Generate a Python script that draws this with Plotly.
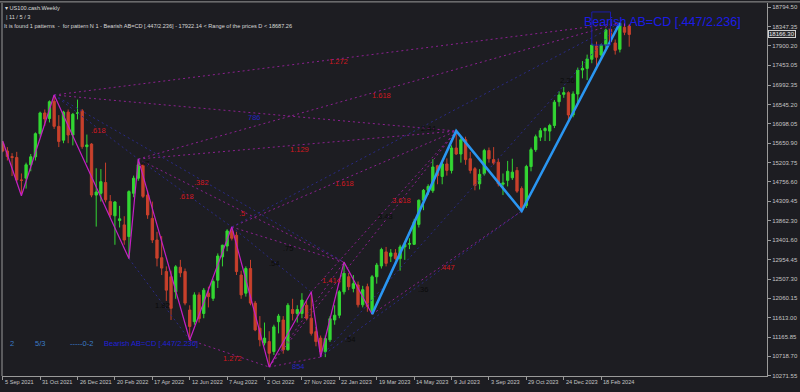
import plotly.graph_objects as go
import pandas as pd

# ---------------- data ----------------
WEEK0 = "2021-09-05"
OPEN = [15640, 15470, 15340, 15320, 14800, 14840, 15150, 15335, 15870, 16350,
        16220, 16620, 16040, 15720, 16370, 15840, 16340, 16400, 15570, 15630,
        14450, 14490, 14740, 14300, 13970, 13860, 13760, 13490, 14490, 14840,
        15150, 14450, 13910, 13410, 13000, 12680, 12560, 12210, 12780, 12680,
        11790, 11520, 12140, 11710, 12180, 12060, 12480, 13020, 13270, 13620,
        13520, 12600, 12180, 12750, 11950, 11370, 11030, 11060, 10830, 11520,
        11560, 10870, 11800, 11710, 11710, 11900, 11600, 11290, 11140, 10830,
        11100, 11560, 11670, 12210, 12560, 12290, 12370, 11910, 12330, 11760,
        12560, 12810, 13135, 13035, 13110, 12980, 13250, 13310, 13310, 13770,
        14330, 14560, 14550, 15130, 14880, 15170, 15020, 15540, 15400, 15730,
        15290, 15060, 14710, 14940, 15480, 15270, 15210, 14700, 14790, 14850,
        15020, 14600, 14210, 15110, 15500, 15790, 15940, 15930, 16060, 16610,
        16780, 16819, 16303, 16788, 17344, 17380, 17592, 17900, 17690, 17922,
        18285, 17968, 17823, 18332, 18362]
HIGH = [15701, 15560, 15420, 15450, 14950, 15200, 15400, 15900, 16380, 16430,
        16640, 16765, 16300, 16400, 16430, 16350, 16660, 16440, 15850, 15650,
        15070, 15050, 15200, 14450, 14310, 14200, 13960, 14560, 14900, 15283,
        15160, 14550, 14300, 13600, 13500, 12800, 12700, 12830, 12950, 12750,
        11900, 12200, 12200, 12300, 12330, 12500, 13100, 13300, 13660, 13711,
        13600, 12700, 12800, 12950, 12000, 11650, 11500, 11300, 11450, 11700,
        11650, 11950, 12050, 11900, 12180, 12000, 12207, 11400, 11200, 11200,
        11650, 11900, 12250, 12898, 12650, 12600, 12450, 12350, 12400, 12600,
        12880, 13230, 13250, 13200, 13200, 13300, 13350, 13450, 13900, 14350,
        14590, 14700, 15280, 15150, 15200, 15300, 15600, 15932, 15800, 15800,
        15450, 15100, 15050, 15520, 15550, 15560, 15300, 14950, 15240, 15290,
        15100, 14650, 15150, 15550, 15850, 16000, 16020, 16100, 16650, 16850,
        16950, 16850, 16850, 17400, 17550, 17700, 17960, 18000, 17950, 18300,
        18420, 18050, 18431, 18420, 18400]
LOW = [15440, 15250, 14890, 14740, 14434, 14600, 15000, 15250, 15800, 16050,
       16130, 15980, 15560, 15650, 15650, 15600, 16200, 15520, 15200, 14400,
       13720, 14300, 14280, 13940, 13300, 13700, 13300, 12980, 14400, 14780,
       14380, 13900, 13340, 12800, 12600, 12000, 11560, 12050, 12550, 11900,
       11096, 11450, 11500, 11600, 11850, 12000, 12300, 12800, 13150, 13400,
       12600, 12050, 12100, 11900, 11300, 10950, 10970, 10471, 10750, 11250,
       10780, 10850, 11550, 11500, 11600, 11550, 11200, 10950, 10703, 10700,
       11050, 11450, 11600, 12150, 12250, 12200, 11850, 11850, 11750, 11691,
       12400, 12750, 12800, 12900, 12950, 12700, 12950, 13200, 13300, 13700,
       14100, 14450, 14500, 14700, 14700, 14900, 14950, 15380, 15200, 15150,
       14950, 14560, 14580, 14900, 15200, 15150, 14650, 14450, 14650, 14800,
       14500, 14081, 14150, 15000, 15450, 15700, 15700, 15700, 16000, 16500,
       16700, 16170, 16250, 16600, 17150, 17110, 17500, 17400, 17600, 17850,
       17950, 17700, 17750, 18150, 17883]
CLOSE = [15470, 15340, 15320, 14800, 14790, 15150, 15335, 15870, 16350, 16210,
         16610, 16040, 15690, 16370, 15840, 16320, 16350, 15570, 15610, 14450,
         14520, 14760, 14340, 13990, 14290, 13900, 13410, 14530, 14840, 15150,
         14420, 13990, 13410, 12990, 12760, 12250, 11830, 12790, 12650, 11950,
         11410, 12140, 11590, 12250, 12100, 12450, 13040, 13290, 13620, 13450,
         12680, 12140, 12750, 11950, 11330, 11100, 11140, 10790, 11400, 11650,
         10870, 11900, 11710, 11800, 12020, 11600, 11250, 11060, 10830, 11130,
         11590, 11670, 12210, 12640, 12330, 12400, 11910, 12260, 11870, 12560,
         12830, 13190, 12870, 13110, 12980, 13250, 13310, 13330, 13830, 14330,
         14560, 14650, 15100, 14900, 15170, 15020, 15540, 15400, 15730, 15270,
         15020, 14670, 14930, 15480, 15290, 15190, 14710, 14730, 15000, 14980,
         14540, 14140, 15110, 15500, 15800, 15940, 15990, 16060, 16600, 16765,
         16820, 16303, 16790, 17344, 17382, 17600, 17922, 17638, 17922, 18270,
         17999, 17798, 18424, 18216, 18166]

# swing points of the zig-zag (week index, high/low)
PIVOT_WEEKS = [0, 4, 11, 27, 29, 40, 49, 57, 66, 68, 73, 79, 97, 111, 132]
PIVOT_SIDE = ["H", "L", "H", "L", "H", "L", "H", "L", "H", "L", "H", "L", "H", "L", "H"]
ZIGZAG_PIVOTS = list(range(0, 12))        # magenta
ABCD_PIVOTS = [11, 12, 13, 14]            # blue A-B-C-D

# dotted ratio lines (pivot pairs)
PURPLE_LINES = [(2, 14), (2, 12), (4, 14), (4, 12), (6, 12), (8, 12), (7, 12),
                (4, 10), (6, 10), (5, 7), (7, 9), (11, 13), (7, 10)]
NAVY_LINES = [(2, 4), (4, 6), (6, 8), (2, 10), (3, 5), (6, 14), (9, 13), (9, 14)]

# ratio labels: text, week, price, colour key
LABEL_TEXT = ["1.272", "1.618", "1.129", "1.618", "3.618", ".618", ".382", ".618", ".5",
              "1.414", ".447", "1.272", "2.36", "2.44", ".47", ".75", ".54", "3.43",
              ".36", ".54", "1.82", "786", "854"]
LABEL_WEEK = [71.9, 81.1, 63.4, 73.0, 85.3, 20.4, 42.5, 39.3, 51.2,
              70.4, 95.2, 49.2, 120.9, 91.1, 30.2, 61.1, 58.1, 81.9,
              90.0, 74.3, 34.2, 53.8, 63.2]
LABEL_PRICE = [17529, 16765, 15493, 14729, 14320, 15939, 14736, 14412, 14012,
               12469, 12779, 10657, 17112, 15995, 15169, 13218, 12871, 13965,
               12276, 11097, 11906, 16256, 10479]
LABEL_KIND = ["r", "r", "r", "r", "r", "r", "r", "r", "r",
              "r", "r", "r", "k", "k", "k", "k", "k", "k",
              "k", "k", "k", "n", "n"]

D_RANGE = [17922.14, 18687.26]
D_BOX_WEEKS = [126, 130]
PATTERN_NAME = "Bearish AB=CD [.447/2.236]"
CURRENT_PRICE = 18166.30

XTICK_WEEKS = [0, 8, 16, 24, 32, 40, 48, 56, 64, 72, 80, 88, 96, 104, 112, 120, 128]
XTICK_LABELS = ["5 Sep 2021", "31 Oct 2021", "26 Dec 2021", "20 Feb 2022", "17 Apr 2022",
                "12 Jun 2022", "7 Aug 2022", "2 Oct 2022", "27 Nov 2022", "22 Jan 2023",
                "19 Mar 2023", "14 May 2023", "9 Jul 2023", "3 Sep 2023", "29 Oct 2023",
                "24 Dec 2023", "18 Feb 2024"]
YTICKS = [18794.50, 18347.35, 17900.20, 17453.05, 16992.35, 16545.20, 16098.05,
          15650.90, 15203.75, 14756.60, 14309.45, 13862.30, 13401.60, 12954.45,
          12507.30, 12060.15, 11613.00, 11165.85, 10718.70, 10271.55]
Y_RANGE = [10263.5, 18894.0]
X_RANGE_WEEKS = [-0.15, 163.47]

# ---------------- styling ----------------
BG = "#1d1d22"
GREEN = "#33d633"
RED = "#c8402c"
MAGENTA = "#c420c4"
ABCD_BLUE = "#2a96f2"
PURPLE_DOT = "#8c2090"
NAVY_DOT = "#2a2a86"
TXT_COLORS = {"r": "#d01820", "k": "#0b0b0b", "n": "#2424c0"}
AXIS_TXT = "#c4c4c4"
AXIS_LINE = "#9a9a9a"
FONT = "Liberation Sans"

t0 = pd.Timestamp(WEEK0)


def wk(w):
    return t0 + pd.Timedelta(days=7 * w)


dates = [wk(i) for i in range(len(OPEN))]


def pivot(k):
    w = PIVOT_WEEKS[k]
    return wk(w), (HIGH[w] if PIVOT_SIDE[k] == "H" else LOW[w])


fig = go.Figure()

fig.add_trace(go.Candlestick(
    x=dates, open=OPEN, high=HIGH, low=LOW, close=CLOSE,
    increasing=dict(line=dict(color=GREEN, width=1), fillcolor=GREEN),
    decreasing=dict(line=dict(color=RED, width=1), fillcolor=RED),
    whiskerwidth=0, showlegend=False, hoverinfo="skip"))


def seg_trace(pairs, color, dash, width=1):
    xs, ys = [], []
    for a, b in pairs:
        xa, ya = pivot(a)
        xb, yb = pivot(b)
        xs += [xa, xb, None]
        ys += [ya, yb, None]
    return go.Scatter(x=xs, y=ys, mode="lines", line=dict(color=color, width=width, dash=dash),
                      showlegend=False, hoverinfo="skip")


fig.add_trace(seg_trace(PURPLE_LINES, PURPLE_DOT, "2px,3px"))
fig.add_trace(seg_trace(NAVY_LINES, NAVY_DOT, "2px,3px"))

zx = [pivot(k)[0] for k in ZIGZAG_PIVOTS]
zy = [pivot(k)[1] for k in ZIGZAG_PIVOTS]
fig.add_trace(go.Scatter(x=zx, y=zy, mode="lines", line=dict(color=MAGENTA, width=1.2),
                         showlegend=False, hoverinfo="skip"))
ax_ = [pivot(k)[0] for k in ABCD_PIVOTS]
ay_ = [pivot(k)[1] for k in ABCD_PIVOTS]
fig.add_trace(go.Scatter(x=ax_, y=ay_, mode="lines", line=dict(color=ABCD_BLUE, width=2.6),
                         showlegend=False, hoverinfo="skip"))

annotations = []
for t, w, p, k in zip(LABEL_TEXT, LABEL_WEEK, LABEL_PRICE, LABEL_KIND):
    annotations.append(dict(x=wk(w), y=p, xref="x", yref="y", text=t, showarrow=False,
                            font=dict(family=FONT, size=7.5, color=TXT_COLORS[k])))

# big pattern label
annotations.append(dict(x=wk(124.0), y=18454, xref="x", yref="y", text=PATTERN_NAME,
                        showarrow=False, xanchor="left", yanchor="middle",
                        font=dict(family=FONT, size=12.5, color="#1c1ce6")))

# x tick labels (left aligned at tick)
for w, lab in zip(XTICK_WEEKS, XTICK_LABELS):
    annotations.append(dict(x=wk(w), y=0, xref="x", yref="paper", text=lab, showarrow=False,
                            xanchor="left", yanchor="top", xshift=0, yshift=-1,
                            font=dict(family=FONT, size=5.6, color=AXIS_TXT)))

# top-left info text
PW, PH, PL, PT = 769.0, 373.0, 2.0, 3.0


def px(xp):
    return (xp - PL) / PW


def py(yp):
    return 1 - (yp - PT) / PH


info = [("\u25be US100.cash.Weekly", 3, 8),
        ("| 11 / 5 / 3", 4, 17),
        ("It is found 1 patterns  -  for pattern N 1 - " + PATTERN_NAME + " - "
         + f"{D_RANGE[0]:.2f} < Range of the prices D < {D_RANGE[1]:.2f}", 2, 26)]
for t, xx, yy in info:
    annotations.append(dict(x=px(xx), y=py(yy), xref="paper", yref="paper", text=t,
                            showarrow=False, xanchor="left", yanchor="middle",
                            font=dict(family=FONT, size=5.6, color="#d8d8d8")))

# bottom-left legend texts
legend_items = [("2", 8, "#3a7cc8", 7.5), ("5/3", 33, "#3a7cc8", 7.5),
                ("-----0-2", 68, "#3a7cc8", 7.5), (PATTERN_NAME, 103, "#2020d8", 7.5)]
for t, xx, c, s in legend_items:
    annotations.append(dict(x=px(xx), y=py(343), xref="paper", yref="paper", text=t,
                            showarrow=False, xanchor="left", yanchor="middle",
                            font=dict(family=FONT, size=s, color=c)))

# current price box
annotations.append(dict(x=1, y=CURRENT_PRICE, xref="paper", yref="y", text=f"{CURRENT_PRICE:.2f}",
                        showarrow=False, xanchor="left", yanchor="middle", xshift=1,
                        bgcolor="#2a2a2e", bordercolor="#d0d0d0", borderwidth=1, borderpad=0,
                        font=dict(family=FONT, size=6, color="#e8e8e8")))

shapes = [
    dict(type="rect", xref="x", yref="y", x0=wk(D_BOX_WEEKS[0]), x1=wk(D_BOX_WEEKS[1]),
         y0=D_RANGE[0], y1=D_RANGE[1], line=dict(color="#1c1ca8", width=1)),
    # frame: left and top borders
    dict(type="line", xref="paper", yref="paper", x0=0, x1=0, y0=0, y1=1,
         line=dict(color=AXIS_LINE, width=1)),
    dict(type="line", xref="paper", yref="paper", x0=-0.01, x1=1.05, y0=1.003, y1=1.003,
         line=dict(color=AXIS_LINE, width=1)),
]

fig.update_layout(
    width=800, height=392,
    margin=dict(l=2, r=29, t=3, b=16),
    paper_bgcolor=BG, plot_bgcolor=BG,
    showlegend=False,
    annotations=annotations, shapes=shapes,
    xaxis=dict(type="date", range=[wk(X_RANGE_WEEKS[0]), wk(X_RANGE_WEEKS[1])],
               rangeslider=dict(visible=False), showgrid=False, zeroline=False,
               tickvals=[wk(w) for w in XTICK_WEEKS], showticklabels=False,
               ticks="outside", ticklen=3, tickcolor=AXIS_LINE,
               showline=True, linecolor=AXIS_LINE, linewidth=1),
    yaxis=dict(side="right", range=Y_RANGE, showgrid=False, zeroline=False,
               tickvals=YTICKS, ticktext=[f"{v:.2f}" for v in YTICKS],
               ticks="outside", ticklen=3, tickcolor=AXIS_LINE,
               tickfont=dict(family=FONT, size=6, color=AXIS_TXT),
               showline=True, linecolor=AXIS_LINE, linewidth=1),
)

fig.write_html("out.html")
